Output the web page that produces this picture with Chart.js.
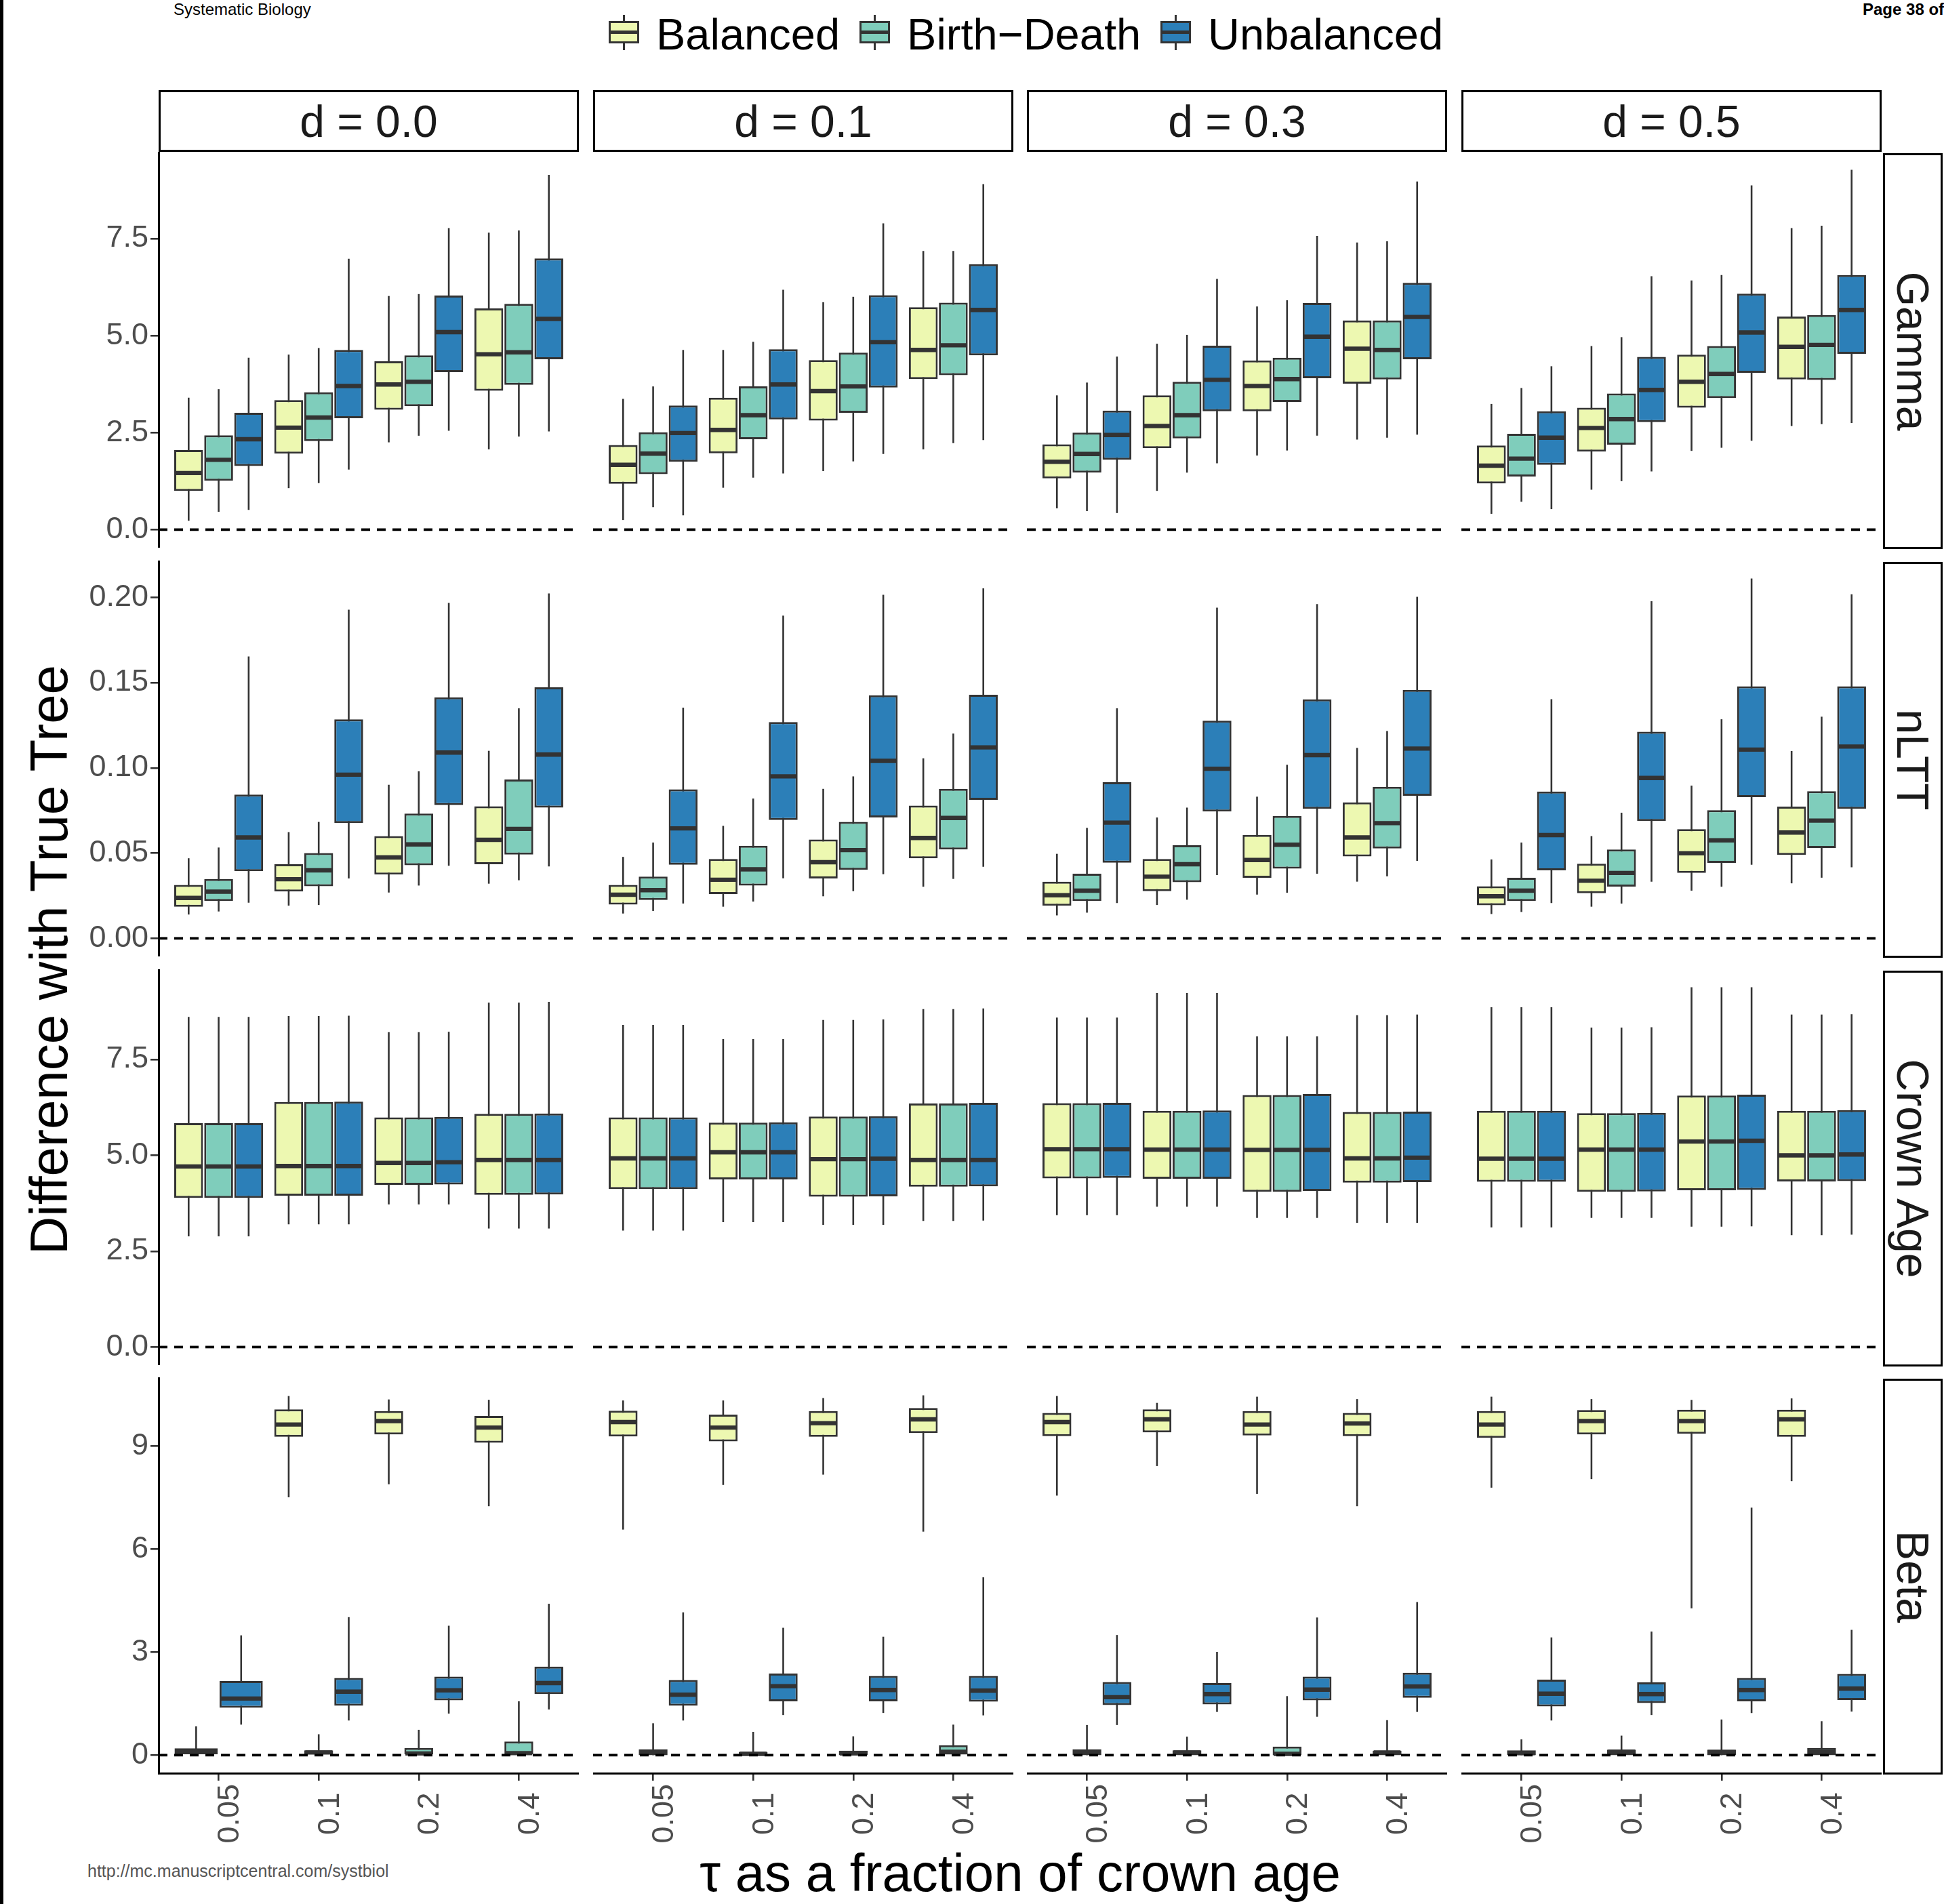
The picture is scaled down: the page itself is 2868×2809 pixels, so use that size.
<!DOCTYPE html>
<html>
<head>
<meta charset="utf-8">
<script src="https://cdn.jsdelivr.net/npm/chart.js@4.4.1/dist/chart.umd.min.js"></script>
<style>
  body { margin: 0; background: #fff; width: 2868px; height: 2809px; position: relative; overflow: hidden;
         font-family: "Liberation Sans", Arial, Helvetica, sans-serif; }
  .abs { position: absolute; white-space: nowrap; }
  .strip { position: absolute; box-sizing: border-box; border: 3px solid #000; background: #fff;
           display: flex; align-items: center; justify-content: center; font-size: 66px; color: #1a1a1a; }
  .strip span { display: block; line-height: 1; white-space: nowrap; }
  .legend { position: absolute; left: 898px; top: 0; height: 96px; display: flex; align-items: center; }
  .key { position: relative; width: 45px; height: 52px; margin-right: 25px; }
  .legend .txt { font-size: 65px; line-height: 1; margin-right: 29px; margin-top: 4px; color: #000; }
</style>
</head>
<body>
<script>
/* ── Data: each box = [lower whisker, q1, median, q3, upper whisker] ── */

const SERIES     = ['Balanced', 'Birth−Death', 'Unbalanced'];
const TAU_LABELS = ['0.05', '0.1', '0.2', '0.4'];
const TAU_POS    = [1, 2, 3, 4];
const D_LABELS   = ['d = 0.0', 'd = 0.1', 'd = 0.3', 'd = 0.5'];
const METRICS    = ['Gamma', 'nLTT', 'Crown Age', 'Beta'];

const GAMMA_TICKS = [0, 2.5, 5, 7.5];
const NLTT_TICKS  = [0, 0.05, 0.1, 0.15, 0.2];
const CROWN_TICKS = [0, 2.5, 5, 7.5];
const BETA_TICKS  = [0, 3, 6, 9];

// Gamma
const GAMMA_D00 = [
  [[0.23, 1.00, 1.46, 2.05, 3.40], [1.07, 1.96, 2.63, 3.34, 4.51], [2.25, 3.09, 3.74, 4.34, 6.02], [2.07, 3.58, 4.52, 5.70, 7.65]],
  [[0.46, 1.26, 1.80, 2.43, 3.62], [1.20, 2.28, 2.89, 3.54, 4.68], [2.42, 3.18, 3.81, 4.49, 6.07], [2.40, 3.73, 4.57, 5.82, 7.71]],
  [[0.51, 1.64, 2.33, 3.01, 4.43], [1.55, 2.87, 3.70, 4.63, 6.98], [2.55, 4.06, 5.09, 6.03, 7.77], [2.53, 4.39, 5.43, 6.99, 9.14]]
];
const GAMMA_D01 = [
  [[0.25, 1.18, 1.67, 2.18, 3.37], [1.08, 1.97, 2.57, 3.40, 4.63], [1.51, 2.81, 3.57, 4.37, 5.86], [2.07, 3.88, 4.63, 5.73, 7.18]],
  [[0.58, 1.43, 1.96, 2.51, 3.69], [1.34, 2.33, 2.95, 3.69, 4.84], [1.76, 3.01, 3.69, 4.56, 6.00], [2.23, 3.98, 4.75, 5.85, 7.18]],
  [[0.37, 1.75, 2.49, 3.20, 4.63], [1.45, 2.84, 3.74, 4.65, 6.18], [1.95, 3.66, 4.83, 6.04, 7.89], [2.31, 4.49, 5.66, 6.84, 8.90]]
];
const GAMMA_D03 = [
  [[0.55, 1.32, 1.75, 2.20, 3.46], [1.00, 2.10, 2.67, 3.46, 4.79], [1.91, 3.05, 3.70, 4.36, 5.75], [2.32, 3.76, 4.66, 5.39, 7.40]],
  [[0.48, 1.47, 1.95, 2.50, 3.79], [1.47, 2.35, 2.95, 3.81, 5.02], [2.04, 3.29, 3.88, 4.43, 5.91], [2.37, 3.87, 4.63, 5.39, 7.43]],
  [[0.43, 1.80, 2.44, 3.07, 4.46], [1.71, 3.05, 3.86, 4.74, 6.46], [2.42, 3.90, 4.97, 5.84, 7.57], [2.45, 4.39, 5.48, 6.36, 8.97]]
];
const GAMMA_D05 = [
  [[0.41, 1.19, 1.65, 2.17, 3.24], [1.03, 2.01, 2.62, 3.14, 4.73], [2.03, 3.14, 3.81, 4.51, 6.42], [2.67, 3.87, 4.71, 5.49, 7.77]],
  [[0.72, 1.37, 1.83, 2.47, 3.65], [1.25, 2.19, 2.85, 3.51, 4.96], [2.11, 3.39, 4.01, 4.73, 6.56], [2.72, 3.86, 4.76, 5.53, 7.83]],
  [[0.53, 1.67, 2.37, 3.05, 4.21], [1.50, 2.77, 3.60, 4.45, 6.53], [2.29, 4.04, 5.08, 6.08, 8.87], [2.75, 4.53, 5.66, 6.56, 9.27]]
];

// nLTT
const NLTT_D00 = [
  [[0.0140, 0.0186, 0.0237, 0.0314, 0.0470], [0.0192, 0.0275, 0.0347, 0.0435, 0.0623], [0.0269, 0.0374, 0.0475, 0.0600, 0.0901], [0.0321, 0.0435, 0.0578, 0.0775, 0.1100]],
  [[0.0158, 0.0219, 0.0274, 0.0349, 0.0533], [0.0196, 0.0306, 0.0399, 0.0501, 0.0683], [0.0310, 0.0429, 0.0551, 0.0732, 0.0980], [0.0341, 0.0492, 0.0642, 0.0932, 0.1349]],
  [[0.0209, 0.0394, 0.0592, 0.0843, 0.1653], [0.0352, 0.0676, 0.0960, 0.1285, 0.1927], [0.0426, 0.0782, 0.1090, 0.1414, 0.1967], [0.0422, 0.0767, 0.1078, 0.1472, 0.2023]]
];
const NLTT_D01 = [
  [[0.0146, 0.0199, 0.0256, 0.0314, 0.0478], [0.0186, 0.0260, 0.0344, 0.0466, 0.0660], [0.0247, 0.0352, 0.0447, 0.0580, 0.0877], [0.0303, 0.0470, 0.0589, 0.0779, 0.1056]],
  [[0.0161, 0.0225, 0.0283, 0.0362, 0.0562], [0.0216, 0.0310, 0.0405, 0.0543, 0.0820], [0.0277, 0.0402, 0.0518, 0.0683, 0.0950], [0.0349, 0.0521, 0.0706, 0.0877, 0.1201]],
  [[0.0204, 0.0432, 0.0645, 0.0874, 0.1353], [0.0353, 0.0694, 0.0950, 0.1269, 0.1893], [0.0376, 0.0709, 0.1041, 0.1426, 0.2015], [0.0420, 0.0813, 0.1120, 0.1429, 0.2053]]
];
const NLTT_D03 = [
  [[0.0135, 0.0192, 0.0253, 0.0333, 0.0496], [0.0196, 0.0277, 0.0362, 0.0466, 0.0709], [0.0257, 0.0356, 0.0460, 0.0607, 0.0831], [0.0333, 0.0481, 0.0592, 0.0798, 0.1117]],
  [[0.0151, 0.0219, 0.0280, 0.0379, 0.0648], [0.0227, 0.0330, 0.0435, 0.0546, 0.0767], [0.0268, 0.0409, 0.0549, 0.0718, 0.1018], [0.0364, 0.0527, 0.0676, 0.0889, 0.1216]],
  [[0.0207, 0.0444, 0.0679, 0.0916, 0.1349], [0.0371, 0.0744, 0.0995, 0.1277, 0.1939], [0.0379, 0.0760, 0.1075, 0.1402, 0.1960], [0.0455, 0.0836, 0.1113, 0.1457, 0.2003]]
];
const NLTT_D05 = [
  [[0.0143, 0.0195, 0.0247, 0.0306, 0.0463], [0.0186, 0.0265, 0.0338, 0.0438, 0.0600], [0.0280, 0.0384, 0.0499, 0.0641, 0.0896], [0.0323, 0.0490, 0.0621, 0.0773, 0.1099]],
  [[0.0155, 0.0219, 0.0280, 0.0356, 0.0562], [0.0204, 0.0304, 0.0384, 0.0521, 0.0737], [0.0303, 0.0443, 0.0575, 0.0752, 0.1285], [0.0356, 0.0530, 0.0691, 0.0863, 0.1300]],
  [[0.0207, 0.0399, 0.0606, 0.0861, 0.1403], [0.0333, 0.0688, 0.0941, 0.1212, 0.1977], [0.0432, 0.0828, 0.1107, 0.1478, 0.2110], [0.0417, 0.0760, 0.1125, 0.1478, 0.2018]]
];

// Crown age
const CROWN_D00 = [
  [[2.89, 3.89, 4.71, 5.84, 8.61], [3.20, 3.95, 4.72, 6.39, 8.63], [3.72, 4.23, 4.80, 5.99, 8.21], [3.09, 3.97, 4.88, 6.08, 8.98]],
  [[2.89, 3.89, 4.71, 5.84, 8.61], [3.20, 3.95, 4.72, 6.39, 8.63], [3.72, 4.23, 4.80, 5.99, 8.21], [3.09, 3.97, 4.88, 6.08, 8.98]],
  [[2.89, 3.89, 4.71, 5.84, 8.61], [3.20, 3.95, 4.72, 6.40, 8.64], [3.72, 4.24, 4.82, 6.00, 8.22], [3.09, 3.98, 4.88, 6.09, 9.00]]
];
const CROWN_D01 = [
  [[3.04, 4.12, 4.92, 5.99, 8.40], [3.26, 4.37, 5.08, 5.85, 8.03], [3.19, 3.92, 4.90, 6.01, 8.53], [3.29, 4.18, 4.88, 6.35, 8.81]],
  [[3.04, 4.12, 4.92, 5.99, 8.40], [3.26, 4.37, 5.08, 5.85, 8.03], [3.19, 3.92, 4.90, 6.01, 8.53], [3.29, 4.18, 4.88, 6.35, 8.81]],
  [[3.04, 4.12, 4.92, 5.99, 8.40], [3.26, 4.37, 5.08, 5.86, 8.03], [3.19, 3.93, 4.91, 6.02, 8.54], [3.30, 4.19, 4.88, 6.37, 8.83]]
];
const CROWN_D03 = [
  [[3.44, 4.40, 5.16, 6.36, 8.59], [3.66, 4.39, 5.15, 6.16, 9.23], [3.37, 4.05, 5.14, 6.57, 8.10], [3.24, 4.29, 4.92, 6.13, 8.65]],
  [[3.44, 4.40, 5.16, 6.36, 8.59], [3.66, 4.39, 5.15, 6.16, 9.23], [3.37, 4.05, 5.14, 6.57, 8.10], [3.24, 4.29, 4.92, 6.13, 8.65]],
  [[3.44, 4.41, 5.16, 6.37, 8.59], [3.66, 4.39, 5.15, 6.17, 9.23], [3.37, 4.07, 5.14, 6.60, 8.10], [3.24, 4.30, 4.94, 6.14, 8.67]]
];
const CROWN_D05 = [
  [[3.12, 4.31, 4.91, 6.16, 8.86], [3.37, 4.05, 5.15, 6.10, 8.33], [3.14, 4.09, 5.36, 6.56, 9.38], [2.92, 4.32, 5.00, 6.16, 8.67]],
  [[3.12, 4.31, 4.91, 6.16, 8.86], [3.37, 4.05, 5.15, 6.10, 8.33], [3.14, 4.09, 5.36, 6.56, 9.38], [2.92, 4.32, 5.00, 6.16, 8.67]],
  [[3.12, 4.31, 4.91, 6.16, 8.86], [3.37, 4.06, 5.15, 6.11, 8.34], [3.15, 4.10, 5.38, 6.58, 9.38], [2.93, 4.33, 5.02, 6.18, 8.68]]
];

// Beta (Balanced has no box at tau = 0.05 for d = 0.0)
const BETA_D00 = [
  [null, [7.51, 9.27, 9.63, 10.07, 10.46], [7.89, 9.34, 9.73, 10.02, 10.36], [7.25, 9.10, 9.54, 9.88, 10.35]],
  [[0, 0, 0.11, 0.20, 0.84], [0, 0, 0.08, 0.14, 0.61], [0, 0, 0.05, 0.21, 0.74], [0, 0, 0.06, 0.40, 1.57]],
  [[0.89, 1.38, 1.65, 2.16, 3.49], [1.01, 1.44, 1.85, 2.25, 4.02], [1.21, 1.60, 1.89, 2.29, 3.77], [1.33, 1.78, 2.10, 2.58, 4.41]]
];
const BETA_D01 = [
  [[6.57, 9.28, 9.70, 10.03, 10.33], [7.87, 9.14, 9.54, 9.92, 10.33], [8.17, 9.27, 9.67, 10.02, 10.40], [6.51, 9.38, 9.78, 10.11, 10.48]],
  [[0, 0, 0.08, 0.17, 0.93], [0, 0, 0.04, 0.10, 0.68], [0, 0, 0.05, 0.13, 0.55], [0, 0.02, 0.10, 0.29, 0.89]],
  [[1.01, 1.44, 1.76, 2.19, 4.16], [1.17, 1.57, 2.01, 2.38, 3.71], [1.23, 1.57, 1.90, 2.31, 3.45], [1.16, 1.56, 1.88, 2.31, 5.18]]
];
const BETA_D03 = [
  [[7.56, 9.29, 9.70, 9.97, 10.46], [8.42, 9.40, 9.78, 10.07, 10.26], [7.61, 9.31, 9.63, 10.02, 10.44], [7.25, 9.29, 9.66, 9.97, 10.37]],
  [[0, 0, 0.08, 0.17, 0.88], [0, 0, 0.08, 0.14, 0.54], [0, 0, 0.04, 0.25, 1.72], [0, 0, 0.08, 0.13, 1.02]],
  [[0.88, 1.46, 1.69, 2.13, 3.50], [1.26, 1.48, 1.78, 2.10, 3.01], [1.12, 1.60, 1.91, 2.29, 4.01], [1.26, 1.67, 2.00, 2.40, 4.46]]
];
const BETA_D05 = [
  [[7.79, 9.24, 9.63, 10.02, 10.44], [8.04, 9.34, 9.73, 10.05, 10.37], [4.28, 9.36, 9.73, 10.06, 10.35], [7.98, 9.27, 9.78, 10.06, 10.39]],
  [[0, 0, 0.06, 0.14, 0.46], [0, 0, 0.10, 0.16, 0.57], [0, 0, 0.09, 0.16, 1.04], [0, 0, 0.10, 0.21, 0.99]],
  [[1.01, 1.42, 1.79, 2.20, 3.43], [1.17, 1.52, 1.78, 2.12, 3.60], [1.23, 1.57, 1.90, 2.25, 7.21], [1.27, 1.61, 1.94, 2.37, 3.65]]
];

const PANELS = [
  [GAMMA_D00, GAMMA_D01, GAMMA_D03, GAMMA_D05],
  [NLTT_D00,  NLTT_D01,  NLTT_D03,  NLTT_D05],
  [CROWN_D00, CROWN_D01, CROWN_D03, CROWN_D05],
  [BETA_D00,  BETA_D01,  BETA_D03,  BETA_D05]
];
const ROW_TICKS = [GAMMA_TICKS, NLTT_TICKS, CROWN_TICKS, BETA_TICKS];
const ROW_FMT   = [v => v.toFixed(1), v => v.toFixed(2), v => v.toFixed(1), v => v.toFixed(0)];

/* ── Style & layout ── */
const FILLS      = ['#EDF8B1', '#7FCDBB', '#2C7FB8'];
const LINE       = '#333333';
const TICK_COLOR = '#4D4D4D';
const BOX_W      = 3;
const WHISKER_W  = 2.6;
const MEDIAN_W   = 6.4;

const COL_X    = [234, 875, 1515, 2156];
const ROW_Y    = [224, 827, 1430, 2032];
const PANEL_W  = 620;
const PANEL_H  = 584;
const Y_AXIS_W = 134;
const X_AXIS_H = 120;

Chart.defaults.font.family = '"Liberation Sans", Arial, Helvetica, sans-serif';

function addDiv(cls, css, html) {
  const d = document.createElement('div');
  if (cls) d.className = cls;
  d.style.cssText = css;
  if (html != null) d.innerHTML = html;
  document.body.appendChild(d);
  return d;
}

// y range per row like ggplot: data range incl. the 0 reference line, 5% expansion
function rowRange(panels) {
  let lo = 0, hi = 0;
  panels.forEach(p => p.forEach(s => s.forEach(b => {
    if (b) { lo = Math.min(lo, b[0]); hi = Math.max(hi, b[4]); }
  })));
  const pad = (hi - lo) * 0.05;
  return [lo - pad, hi + pad];
}
const RANGES = PANELS.map(rowRange);

/* ── Medians + dashed zero line ── */
const boxExtras = {
  id: 'boxExtras',
  afterDatasetsDraw(chart) {
    const ctx = chart.ctx;
    const ys = chart.scales.y;
    const area = chart.chartArea;
    ctx.save();
    ctx.strokeStyle = LINE;
    ctx.lineWidth = MEDIAN_W;
    chart.data.datasets.forEach((ds, i) => {
      if (!ds.medians) return;
      chart.getDatasetMeta(i).data.forEach((bar, j) => {
        const m = ds.medians[j];
        if (m == null) return;
        const py = ys.getPixelForValue(m);
        const half = bar.width / 2 - BOX_W / 2;
        ctx.beginPath();
        ctx.moveTo(bar.x - half, py);
        ctx.lineTo(bar.x + half, py);
        ctx.stroke();
      });
    });
    const y0 = ys.getPixelForValue(0);
    ctx.strokeStyle = '#000';
    ctx.lineWidth = 3.8;
    ctx.setLineDash([13, 10]);
    ctx.beginPath();
    ctx.moveTo(area.left, y0);
    ctx.lineTo(area.right, y0);
    ctx.stroke();
    ctx.restore();
  }
};

function makePanel(row, col) {
  const boxes = PANELS[row][col];
  const [ymin, ymax] = RANGES[row];
  const hasY = col === 0;
  const hasX = row === 3;
  const left = COL_X[col] - (hasY ? Y_AXIS_W : 0);
  const w = PANEL_W + (hasY ? Y_AXIS_W : 0);
  const h = PANEL_H + (hasX ? X_AXIS_H : 0);

  const cv = document.createElement('canvas');
  cv.width = w; cv.height = h;
  cv.style.cssText = `position:absolute;left:${left}px;top:${ROW_Y[row]}px;width:${w}px;height:${h}px`;
  document.body.appendChild(cv);

  // whisker and box of one series share a "stack" slot, so they sit on the same x
  const common = { grouped: true, skipNull: true, categoryPercentage: 0.9, barPercentage: 0.96 };
  const datasets = [];
  SERIES.forEach((name, s) => {
    const stats = boxes[s];
    datasets.push({
      ...common, label: name + ' whiskers', stack: 's' + s, order: 2,
      data: TAU_POS.map((x, t) => ({ x, y: stats[t] ? [stats[t][0], stats[t][4]] : null })),
      backgroundColor: LINE, borderWidth: 0, maxBarThickness: WHISKER_W
    });
    datasets.push({
      ...common, label: name, stack: 's' + s, order: 1,
      data: TAU_POS.map((x, t) => ({ x, y: stats[t] ? [stats[t][1], stats[t][3]] : null })),
      medians: stats.map(b => (b ? b[2] : null)),
      backgroundColor: FILLS[s], borderColor: LINE, borderWidth: BOX_W, borderSkipped: false
    });
  });

  new Chart(cv, {
    type: 'bar',
    data: { datasets },
    plugins: [boxExtras],
    options: {
      responsive: false,
      animation: false,
      events: [],
      layout: { padding: 0 },
      plugins: { legend: { display: false }, tooltip: { enabled: false } },
      scales: {
        x: {
          type: 'linear', min: 0.4, max: 4.6, offset: false, display: hasX,
          afterBuildTicks: s => { s.ticks = TAU_POS.map(v => ({ value: v })); },
          afterFit: s => { s.paddingLeft = 0; s.paddingRight = 0; if (hasX) s.height = X_AXIS_H; },
          border: { display: true, color: '#000', width: 3 },
          grid: { display: true, drawOnChartArea: false, drawTicks: true, tickLength: 11, color: LINE, lineWidth: 2.6, offset: false },
          ticks: {
            autoSkip: false, minRotation: 90, maxRotation: 90, padding: 5, labelOffset: 17,
            color: TICK_COLOR, font: { size: 45 },
            callback: (v, i) => TAU_LABELS[i].padEnd(4, ' ')
          }
        },
        y: {
          type: 'linear', min: ymin, max: ymax, display: hasY, stacked: false,
          afterBuildTicks: s => { s.ticks = ROW_TICKS[row].map(v => ({ value: v })); },
          afterFit: s => { s.paddingTop = 0; s.paddingBottom = 0; if (hasY) s.width = Y_AXIS_W; },
          border: { display: true, color: '#000', width: 3 },
          grid: { display: true, drawOnChartArea: false, drawTicks: true, tickLength: 12, color: LINE, lineWidth: 2.6 },
          ticks: { padding: 3, color: TICK_COLOR, font: { size: 45 }, callback: v => ROW_FMT[row](v) }
        }
      }
    }
  });
}

/* ── Page furniture ── */
addDiv('abs', 'left:0;top:0;width:5px;height:2809px;background:#000');
addDiv('abs', 'left:256px;top:2px;font-size:24px;line-height:1;color:#000', 'Systematic Biology');
addDiv('abs', 'left:2748px;top:2px;font-size:24px;line-height:1;font-weight:bold;color:#000', 'Page 38 of');
addDiv('abs', 'left:129px;top:2748px;font-size:25px;line-height:1;color:#555', 'http://mc.manuscriptcentral.com/systbiol');

/* ── Legend ── */
const legend = addDiv('legend', '');
SERIES.forEach((name, s) => {
  const key = document.createElement('div');
  key.className = 'key';
  key.innerHTML =
    `<div style="position:absolute;left:${22.5 - WHISKER_W / 2}px;top:0;width:${WHISKER_W}px;height:52px;background:${LINE}"></div>` +
    `<div style="position:absolute;left:0;top:9px;width:45px;height:33px;box-sizing:border-box;border:${BOX_W}px solid ${LINE};background:${FILLS[s]}"></div>` +
    `<div style="position:absolute;left:1px;top:23px;width:43px;height:5px;background:${LINE}"></div>`;
  legend.appendChild(key);
  const txt = document.createElement('div');
  txt.className = 'txt';
  txt.textContent = name;
  legend.appendChild(txt);
});

/* ── Strips ── */
D_LABELS.forEach((lab, c) => {
  addDiv('strip', `left:${COL_X[c]}px;top:133px;width:${PANEL_W}px;height:91px`, `<span>${lab}</span>`);
});
METRICS.forEach((lab, r) => {
  addDiv('strip', `left:2778px;top:${ROW_Y[r] + 2}px;width:88px;height:${PANEL_H}px`,
         `<span style="transform:rotate(90deg)">${lab}</span>`);
});

/* ── Panels ── */
for (let r = 0; r < 4; r++) {
  for (let c = 0; c < 4; c++) makePanel(r, c);
}

/* ── Axis titles ── */
addDiv('abs', 'left:72px;top:1416px;font-size:78px;line-height:1;color:#000;transform:translate(-50%,-50%) rotate(-90deg)',
       'Difference with True Tree');
addDiv('abs', 'left:1505px;top:2724px;font-size:78px;line-height:1;color:#000;transform:translateX(-50%)',
       'τ as a fraction of crown age');
</script>
</body>
</html>
